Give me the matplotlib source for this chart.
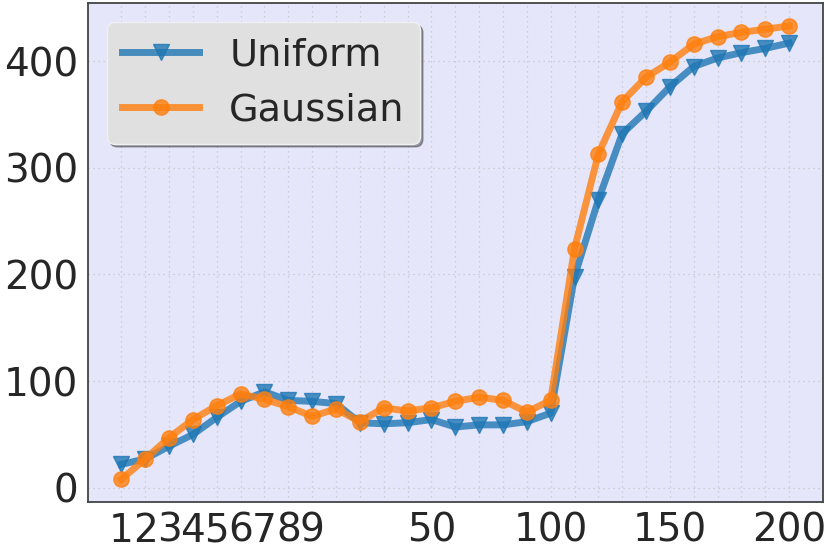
import matplotlib
matplotlib.use("Agg")
import matplotlib.pyplot as plt
import numpy as np

# x categories: 1..9, then 10..200 in steps of 10
x_values = [1, 2, 3, 4, 5, 6, 7, 8, 9,
            10, 20, 30, 40, 50, 60, 70, 80, 90, 100,
            110, 120, 130, 140, 150, 160, 170, 180, 190, 200]
shown_labels = [1, 2, 3, 4, 5, 6, 7, 8, 9, 50, 100, 150, 200]

uniform = [22, 27, 39, 50, 66, 81, 90, 82, 81, 79, 61, 60, 61, 64, 57, 59, 59, 62, 70,
           198, 270, 332, 353, 376, 395, 403, 408, 412, 417]
gaussian = [8, 27, 47, 64, 77, 88, 83, 76, 67, 74, 62, 75, 72, 75, 81, 85, 82, 71, 82,
            224, 313, 362, 385, 399, 416, 423, 427, 430, 433]

tick_labels = [str(v) if v in shown_labels else "" for v in x_values]
pos = np.arange(len(x_values))

fig = plt.figure(figsize=(8.3, 5.54), dpi=100)
ax = fig.add_axes([0.106, 0.094, 0.885, 0.900])
ax.set_facecolor("#e6e6fa")

ax.plot(pos, uniform, color="#1f77b4", marker="v", lw=5, ms=11, alpha=0.8, label="Uniform")
ax.plot(pos, gaussian, color="#ff7f0e", marker="o", lw=5, ms=11, alpha=0.8, label="Gaussian")

ax.set_xticks(pos)
ax.set_xticklabels(tick_labels)
ax.set_yticks([0, 100, 200, 300, 400])
ax.tick_params(axis="both", length=0, labelsize=28, labelcolor="#262626", pad=7)
ax.grid(True, linestyle=(0, (1, 3)), color="#bdbdbd", linewidth=0.9, alpha=0.8)
ax.set_axisbelow(True)
for s in ax.spines.values():
    s.set_color("#444444")
    s.set_linewidth(1.3)

leg = ax.legend(loc="upper left", fontsize=27.5, shadow=True, fancybox=True,
                facecolor="#e0e0e0", edgecolor="#f0f0f0", framealpha=1.0)
for t in leg.get_texts():
    t.set_color("#262626")

fig.savefig("out.png", dpi=100)
